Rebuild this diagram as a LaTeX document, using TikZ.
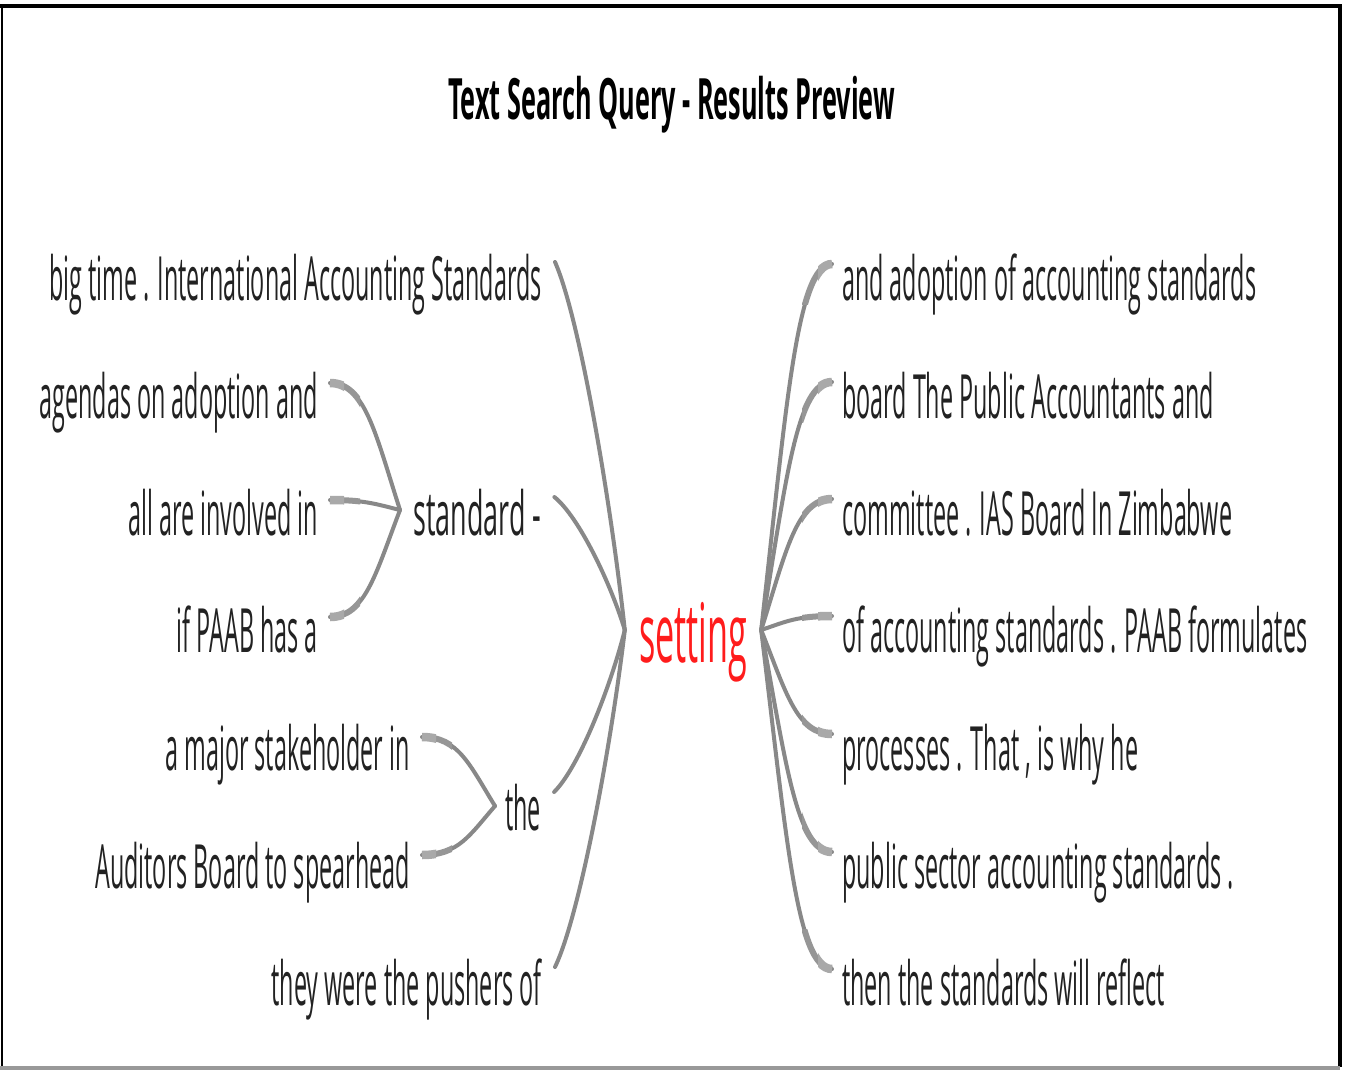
\documentclass[tikz,border=0pt]{standalone}
\usepackage{fontspec}
\setmainfont{Open Sans}
\usetikzlibrary{calc}
\definecolor{connc}{RGB}{136,136,136}
\definecolor{txtc}{RGB}{34,34,34}
\definecolor{hitc}{RGB}{255,28,28}
% scale a text horizontally to a given width
\newsavebox\fitbox
\newcommand\fitw[2]{\sbox\fitbox{#2}\pgfmathsetmacro\fitratio{#1/\the\wd\fitbox}\scalebox{\fitratio}[1]{\usebox\fitbox}}
% condensed text for the word-tree phrases
\newcommand\cnd[1]{\scalebox{0.383}[1]{#1}}
% curve that leaves a junction and ends level with its phrase
\newcommand\hpath[2]{let \p1=(#1), \p2=(#2) in (\p1)
    .. controls ({\x1+0.35*(\x2-\x1)},{\y1+0.6*(\y2-\y1)}) and ({\x1+0.5*(\x2-\x1)},{\y2}) .. (\p2)}
% the same curve, widened near the phrase
\newcommand\hbranch[2]{%
  \draw[conn] \hpath{#1}{#2};
  \begin{scope}
    \clip let \p1=(#1), \p2=(#2), \n1={sign(\x2-\x1)} in
      ({\x2-\n1*30pt},{\y2-40pt}) rectangle ({\x2+\n1*1pt},{\y2+40pt});
    \draw[conn, line width=6pt, draw=connc!88, line cap=butt] \hpath{#1}{#2};
  \end{scope}
  \begin{scope}
    \clip let \p1=(#1), \p2=(#2), \n1={sign(\x2-\x1)} in
      ({\x2-\n1*14pt},{\y2-40pt}) rectangle ({\x2+\n1*1pt},{\y2+40pt});
    \draw[conn, line width=8.5pt, draw=connc!72, line cap=butt] \hpath{#1}{#2};
  \end{scope}}
% branch leaving a phrase on the left side towards the keyword
\newcommand\sbranch[2]{%
  \draw[conn] let \p1=(#1), \p2=(#2) in (\p1)
    .. controls ({\x1+0.35*(\x2-\x1)},{\y1+0.15*(\y2-\y1)}) and ({\x2-0.2*(\x2-\x1)},{\y2-0.35*(\y2-\y1)}) .. (\p2);}
\begin{document}
\begin{tikzpicture}[x=1pt,y=-1pt,
  leaf/.style={font=\fontsize{61}{61}\selectfont, text=txtc, inner sep=0pt},
  conn/.style={draw=connc, line width=4pt, line cap=round}]
\useasboundingbox (0,0) rectangle (1345,1070);
\fill[white] (0,0) rectangle (1345,1070);
% frame
\fill[black] (0,4) rectangle (1342,8);
\fill[black] (1,4) rectangle (3,1067);
\fill[black] (1338,4) rectangle (1342,1067);
\fill[black!40] (0,1066) rectangle (1340,1070);

% title
\node[font=\bfseries\fontsize{57}{57}\selectfont, inner sep=0pt, anchor=base] (title) at (671.5,120)
  {\fitw{447pt}{Text Search Query - Results Preview}};

% keyword
\node[font=\fontsize{82}{82}\selectfont, text=hitc, inner sep=0pt, anchor=base] (set) at (693,662)
  {\fitw{108pt}{setting}};

% left phrases
\node[leaf, anchor=base east] (l1) at (542,300) {\cnd{big time . International Accounting Standards}};
\node[leaf, anchor=base east] (l2) at (318,418) {\cnd{agendas on adoption and}};
\node[leaf, anchor=base east] (l3) at (318,535) {\cnd{all are involved in}};
\node[leaf, anchor=base east] (l4) at (318,652) {\cnd{if PAAB has a}};
\node[leaf, anchor=base west] (std) at (413,535) {\fitw{128pt}{standard -}};
\node[leaf, anchor=base east] (l6) at (410,770) {\cnd{a major stakeholder in}};
\node[leaf, anchor=base east] (l7) at (410,888) {\cnd{Auditors Board to spearhead}};
\node[leaf, anchor=base west] (the) at (505,830) {\cnd{the}};
\node[leaf, anchor=base east] (l9) at (542,1005) {\cnd{they were the pushers of}};

% right phrases
\node[leaf, anchor=base west] (r1) at (842,300) {\cnd{and adoption of accounting standards}};
\node[leaf, anchor=base west] (r2) at (842,418) {\cnd{board The Public Accountants and}};
\node[leaf, anchor=base west] (r3) at (842,535) {\cnd{committee . IAS Board In Zimbabwe}};
\node[leaf, anchor=base west] (r4) at (842,652) {\cnd{of accounting standards . PAAB formulates}};
\node[leaf, anchor=base west] (r5) at (842,770) {\cnd{processes . That , is why he}};
\node[leaf, anchor=base west] (r6) at (842,888) {\cnd{public sector accounting standards .}};
\node[leaf, anchor=base west] (r7) at (842,1005) {\cnd{then the standards will reflect}};

% junctions
\coordinate (jl) at ($(set.base west)+(-14,-32)$);
\coordinate (jr) at ($(set.base east)+(14,-32)$);
\coordinate (jstd) at ($(std.base west)+(-13,-25)$);
\coordinate (jthe) at ($(the.base west)+(-10,-24)$);

% right branches
\foreach \k in {r1,r2,r3,r4,r5,r6,r7}
  \hbranch{jr}{$(\k.base west)+(-10,-36)$};

% second-level left branches
\foreach \k in {l2,l3,l4}
  \hbranch{jstd}{$(\k.base east)+(12,-35)$};
\foreach \k in {l6,l7}
  \hbranch{jthe}{$(\k.base east)+(12,-33)$};

% first-level left branches
\foreach \k in {l1,std,the,l9}
  \sbranch{$(\k.base east)+(13,-38)$}{jl};
\end{tikzpicture}
\end{document}
